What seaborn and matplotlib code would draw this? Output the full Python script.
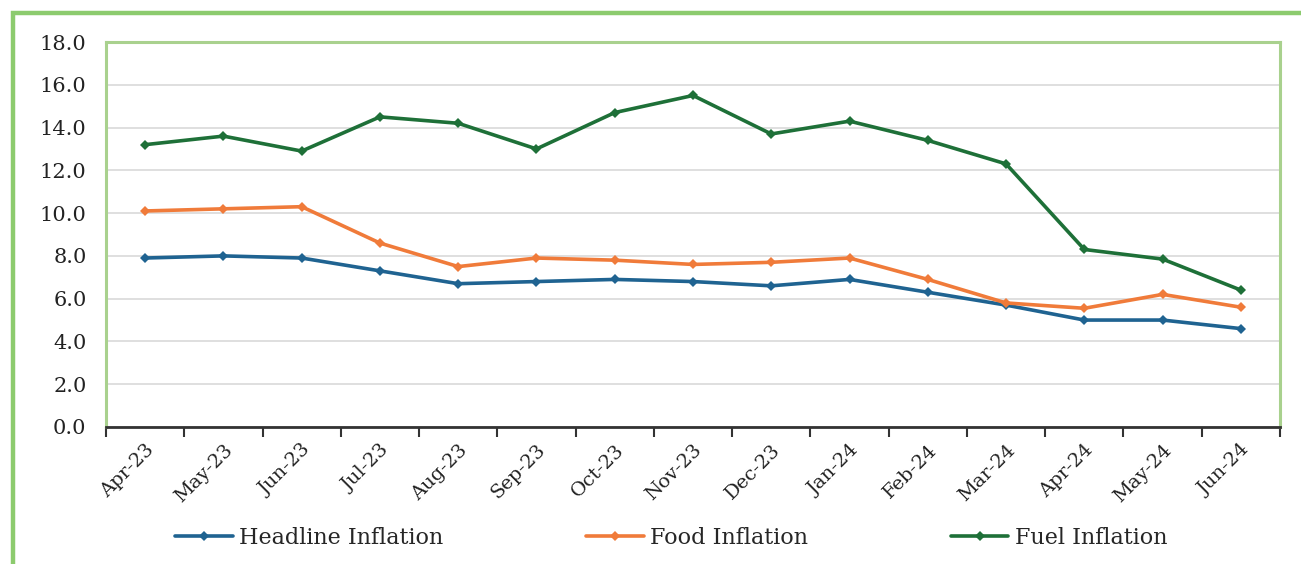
import matplotlib
matplotlib.use("Agg")
import matplotlib.pyplot as plt
from matplotlib.patches import Rectangle
from matplotlib.ticker import FixedLocator
import seaborn as sns
import pandas as pd

months = ["Apr-23", "May-23", "Jun-23", "Jul-23", "Aug-23", "Sep-23", "Oct-23",
          "Nov-23", "Dec-23", "Jan-24", "Feb-24", "Mar-24", "Apr-24", "May-24", "Jun-24"]
headline = [7.9, 8.0, 7.9, 7.3, 6.7, 6.8, 6.9, 6.8, 6.6, 6.9, 6.3, 5.7, 5.0, 5.0, 4.6]
food = [10.1, 10.2, 10.3, 8.6, 7.5, 7.9, 7.8, 7.6, 7.7, 7.9, 6.9, 5.8, 5.55, 6.2, 5.6]
fuel = [13.2, 13.6, 12.9, 14.5, 14.2, 13.0, 14.7, 15.5, 13.7, 14.3, 13.4, 12.3, 8.3, 7.85, 6.4]
series_names = ["Headline Inflation", "Food Inflation", "Fuel Inflation"]
colors = ["#1f6391", "#f07b3a", "#1e7038"]

frames = []
for name, vals in zip(series_names, [headline, food, fuel]):
    frames.append(pd.DataFrame({"Month": months, "Value": vals, "Series": name}))
df = pd.concat(frames, ignore_index=True)
df["pos"] = df["Month"].map({m: i for i, m in enumerate(months)})

sns.set_theme(style="white")
plt.rcParams["font.family"] = ["DejaVu Serif"]

fig = plt.figure(figsize=(13.01, 5.64), dpi=100)
ax = fig.add_axes([106 / 1301, 1 - 427 / 564, 1174 / 1301, 385 / 564])

sns.lineplot(data=df, x="pos", y="Value", hue="Series", hue_order=series_names,
             palette=colors, marker="D", markersize=5, markeredgewidth=0,
             linewidth=2.6, sort=False, ax=ax, legend=True)

ax.set_xlim(-0.5, len(months) - 0.5)
ax.set_ylim(0, 18)
ax.set_yticks([i * 2 for i in range(10)])
ax.set_yticklabels([f"{i * 2:.1f}" for i in range(10)], fontsize=15, color="#222222")
ax.set_xticks(range(len(months)))
ax.set_xticklabels(months, rotation=45, ha="right", rotation_mode="anchor",
                   fontsize=14, color="#222222")
ax.xaxis.set_minor_locator(FixedLocator([i - 0.5 for i in range(len(months) + 1)]))
ax.tick_params(axis="x", which="major", length=0, pad=10)
ax.tick_params(axis="x", which="minor", length=7, width=1.5, color="#333333", bottom=True)
ax.tick_params(axis="y", length=0, pad=14)
ax.set_xlabel("")
ax.set_ylabel("")
ax.grid(axis="y", color="#d9d9d9", linewidth=1.2)
ax.set_axisbelow(True)

for side in ["left", "top", "right"]:
    ax.spines[side].set_color("#a9d18e")
    ax.spines[side].set_linewidth(2.2)
ax.spines["bottom"].set_color("#333333")
ax.spines["bottom"].set_linewidth(2)

handles, labels = ax.get_legend_handles_labels()
ax.get_legend().remove()
fig.legend(handles, labels, loc="center", bbox_to_anchor=(0.516, 1 - 538 / 564),
           ncol=3, frameon=False, fontsize=16, handlelength=2.6, handletextpad=0.3,
           columnspacing=6.4, borderaxespad=0)

# outer panel border
fig.patches.append(Rectangle((13 / 1301, -0.05), 1.1, 1 - 13 / 564 + 0.05,
                             transform=fig.transFigure, fill=False,
                             edgecolor="#8ccb6e", linewidth=3.2, zorder=0))

fig.savefig("out.png", dpi=100)
